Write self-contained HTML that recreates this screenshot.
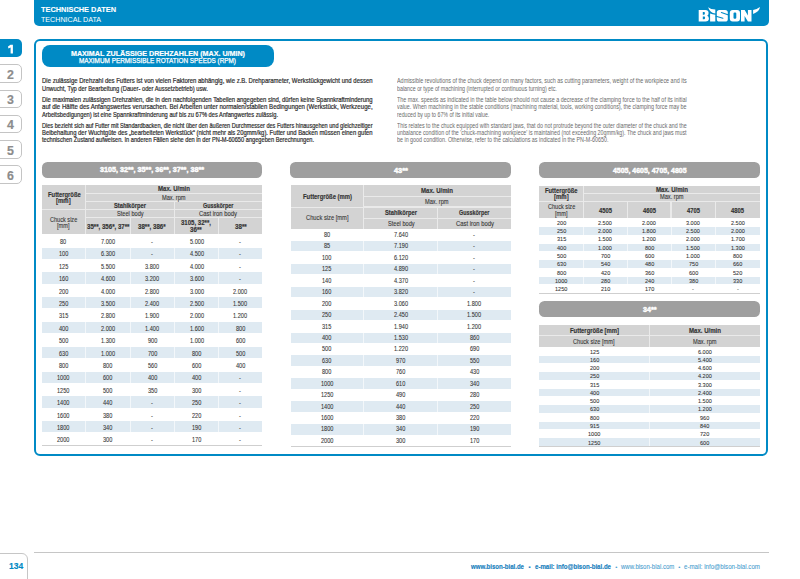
<!DOCTYPE html>
<html><head><meta charset="utf-8"><style>
*{margin:0;padding:0;box-sizing:border-box}
html,body{width:800px;height:579px;overflow:hidden;background:#fff}
body{position:relative;font-family:"Liberation Sans",sans-serif}
.a{position:absolute}
.t{position:absolute;white-space:nowrap;line-height:1;transform-origin:0 0}
</style></head><body>
<div class="a" style="left:33.50px;top:-6.00px;width:735.00px;height:31.50px;background:#008ac5;border-radius:5px"></div>
<div class="a" style="left:-6.00px;top:38.50px;width:28.20px;height:18.60px;background:#008ac5;border-radius:5px"></div>
<svg class="a" style="left:0;top:0" width="30" height="60"><path fill="#fff" d="M10.5,44.7H12.9V53.6H10.6V47.5L8.4,48.6L8.0,46.6Z"/></svg>
<div class="a" style="left:-6px;top:64.2px;width:28.1px;height:18.7px;border:1px solid #c4c4c4;border-radius:5px"></div>
<div class="a" style="left:-6px;top:89.5px;width:28.1px;height:18.7px;border:1px solid #c4c4c4;border-radius:5px"></div>
<div class="a" style="left:-6px;top:114.8px;width:28.1px;height:18.7px;border:1px solid #c4c4c4;border-radius:5px"></div>
<div class="a" style="left:-6px;top:140.1px;width:28.1px;height:18.7px;border:1px solid #c4c4c4;border-radius:5px"></div>
<div class="a" style="left:-6px;top:165.2px;width:28.1px;height:18.7px;border:1px solid #c4c4c4;border-radius:5px"></div>
<div class="a" style="left:33.5px;top:38.5px;width:734.8px;height:417.2px;border:2px solid #008ac5;border-radius:6px"></div>
<div class="a" style="left:41.50px;top:45.00px;width:232.00px;height:22.00px;background:#008ac5;border-radius:8px"></div>
<div class="a" style="left:41.70px;top:162.20px;width:220.70px;height:15.60px;background:#9f9f9f;border-radius:5.5px"></div>
<div class="a" style="left:41.70px;top:185.10px;width:220.30px;height:48.80px;background:#eaeaea;"></div>
<div class="a" style="left:41.70px;top:185.10px;width:43.10px;height:23.70px;background:#d3d3d3;"></div>
<div class="a" style="left:41.70px;top:209.80px;width:43.10px;height:24.10px;background:#d3d3d3;"></div>
<div class="a" style="left:85.80px;top:185.10px;width:176.20px;height:7.80px;background:#d3d3d3;"></div>
<div class="a" style="left:85.80px;top:193.90px;width:176.20px;height:7.00px;background:#d3d3d3;"></div>
<div class="a" style="left:85.80px;top:201.90px;width:88.10px;height:6.90px;background:#d3d3d3;"></div>
<div class="a" style="left:174.90px;top:201.90px;width:87.10px;height:6.90px;background:#d3d3d3;"></div>
<div class="a" style="left:85.80px;top:209.80px;width:88.10px;height:7.00px;background:#d3d3d3;"></div>
<div class="a" style="left:174.90px;top:209.80px;width:87.10px;height:7.00px;background:#d3d3d3;"></div>
<div class="a" style="left:85.80px;top:217.80px;width:44.10px;height:16.10px;background:#d3d3d3;"></div>
<div class="a" style="left:130.90px;top:217.80px;width:43.00px;height:16.10px;background:#d3d3d3;"></div>
<div class="a" style="left:174.90px;top:217.80px;width:43.40px;height:16.10px;background:#d3d3d3;"></div>
<div class="a" style="left:219.30px;top:217.80px;width:42.70px;height:16.10px;background:#d3d3d3;"></div>
<div class="a" style="left:41.70px;top:247.50px;width:220.30px;height:11.40px;background:#dfeaf2;"></div>
<div class="a" style="left:84.80px;top:247.50px;width:1.00px;height:11.40px;background:#f3f7fa;"></div>
<div class="a" style="left:129.90px;top:247.50px;width:1.00px;height:11.40px;background:#f3f7fa;"></div>
<div class="a" style="left:173.90px;top:247.50px;width:1.00px;height:11.40px;background:#f3f7fa;"></div>
<div class="a" style="left:218.30px;top:247.50px;width:1.00px;height:11.40px;background:#f3f7fa;"></div>
<div class="a" style="left:41.70px;top:272.30px;width:220.30px;height:11.40px;background:#dfeaf2;"></div>
<div class="a" style="left:84.80px;top:272.30px;width:1.00px;height:11.40px;background:#f3f7fa;"></div>
<div class="a" style="left:129.90px;top:272.30px;width:1.00px;height:11.40px;background:#f3f7fa;"></div>
<div class="a" style="left:173.90px;top:272.30px;width:1.00px;height:11.40px;background:#f3f7fa;"></div>
<div class="a" style="left:218.30px;top:272.30px;width:1.00px;height:11.40px;background:#f3f7fa;"></div>
<div class="a" style="left:41.70px;top:297.10px;width:220.30px;height:11.40px;background:#dfeaf2;"></div>
<div class="a" style="left:84.80px;top:297.10px;width:1.00px;height:11.40px;background:#f3f7fa;"></div>
<div class="a" style="left:129.90px;top:297.10px;width:1.00px;height:11.40px;background:#f3f7fa;"></div>
<div class="a" style="left:173.90px;top:297.10px;width:1.00px;height:11.40px;background:#f3f7fa;"></div>
<div class="a" style="left:218.30px;top:297.10px;width:1.00px;height:11.40px;background:#f3f7fa;"></div>
<div class="a" style="left:41.70px;top:321.90px;width:220.30px;height:11.40px;background:#dfeaf2;"></div>
<div class="a" style="left:84.80px;top:321.90px;width:1.00px;height:11.40px;background:#f3f7fa;"></div>
<div class="a" style="left:129.90px;top:321.90px;width:1.00px;height:11.40px;background:#f3f7fa;"></div>
<div class="a" style="left:173.90px;top:321.90px;width:1.00px;height:11.40px;background:#f3f7fa;"></div>
<div class="a" style="left:218.30px;top:321.90px;width:1.00px;height:11.40px;background:#f3f7fa;"></div>
<div class="a" style="left:41.70px;top:346.70px;width:220.30px;height:11.40px;background:#dfeaf2;"></div>
<div class="a" style="left:84.80px;top:346.70px;width:1.00px;height:11.40px;background:#f3f7fa;"></div>
<div class="a" style="left:129.90px;top:346.70px;width:1.00px;height:11.40px;background:#f3f7fa;"></div>
<div class="a" style="left:173.90px;top:346.70px;width:1.00px;height:11.40px;background:#f3f7fa;"></div>
<div class="a" style="left:218.30px;top:346.70px;width:1.00px;height:11.40px;background:#f3f7fa;"></div>
<div class="a" style="left:41.70px;top:371.50px;width:220.30px;height:11.40px;background:#dfeaf2;"></div>
<div class="a" style="left:84.80px;top:371.50px;width:1.00px;height:11.40px;background:#f3f7fa;"></div>
<div class="a" style="left:129.90px;top:371.50px;width:1.00px;height:11.40px;background:#f3f7fa;"></div>
<div class="a" style="left:173.90px;top:371.50px;width:1.00px;height:11.40px;background:#f3f7fa;"></div>
<div class="a" style="left:218.30px;top:371.50px;width:1.00px;height:11.40px;background:#f3f7fa;"></div>
<div class="a" style="left:41.70px;top:396.30px;width:220.30px;height:11.40px;background:#dfeaf2;"></div>
<div class="a" style="left:84.80px;top:396.30px;width:1.00px;height:11.40px;background:#f3f7fa;"></div>
<div class="a" style="left:129.90px;top:396.30px;width:1.00px;height:11.40px;background:#f3f7fa;"></div>
<div class="a" style="left:173.90px;top:396.30px;width:1.00px;height:11.40px;background:#f3f7fa;"></div>
<div class="a" style="left:218.30px;top:396.30px;width:1.00px;height:11.40px;background:#f3f7fa;"></div>
<div class="a" style="left:41.70px;top:421.10px;width:220.30px;height:11.40px;background:#dfeaf2;"></div>
<div class="a" style="left:84.80px;top:421.10px;width:1.00px;height:11.40px;background:#f3f7fa;"></div>
<div class="a" style="left:129.90px;top:421.10px;width:1.00px;height:11.40px;background:#f3f7fa;"></div>
<div class="a" style="left:173.90px;top:421.10px;width:1.00px;height:11.40px;background:#f3f7fa;"></div>
<div class="a" style="left:218.30px;top:421.10px;width:1.00px;height:11.40px;background:#f3f7fa;"></div>
<div class="a" style="left:41.70px;top:445.10px;width:220.30px;height:1.00px;background:#cfcfcf;"></div>
<div class="a" style="left:290.20px;top:161.70px;width:220.80px;height:16.10px;background:#9f9f9f;border-radius:5.5px"></div>
<div class="a" style="left:290.80px;top:185.25px;width:220.20px;height:43.50px;background:#eaeaea;"></div>
<div class="a" style="left:290.80px;top:185.25px;width:72.20px;height:21.25px;background:#d3d3d3;"></div>
<div class="a" style="left:290.80px;top:207.50px;width:72.20px;height:21.25px;background:#d3d3d3;"></div>
<div class="a" style="left:364.00px;top:185.25px;width:147.00px;height:10.35px;background:#d3d3d3;"></div>
<div class="a" style="left:364.00px;top:196.60px;width:147.00px;height:9.90px;background:#d3d3d3;"></div>
<div class="a" style="left:364.00px;top:207.50px;width:73.10px;height:10.30px;background:#d3d3d3;"></div>
<div class="a" style="left:438.10px;top:207.50px;width:72.90px;height:10.30px;background:#d3d3d3;"></div>
<div class="a" style="left:364.00px;top:218.80px;width:73.10px;height:9.95px;background:#d3d3d3;"></div>
<div class="a" style="left:438.10px;top:218.80px;width:72.90px;height:9.95px;background:#d3d3d3;"></div>
<div class="a" style="left:290.80px;top:241.04px;width:220.20px;height:10.44px;background:#dfeaf2;"></div>
<div class="a" style="left:363.00px;top:241.04px;width:1.00px;height:10.44px;background:#f3f7fa;"></div>
<div class="a" style="left:437.10px;top:241.04px;width:1.00px;height:10.44px;background:#f3f7fa;"></div>
<div class="a" style="left:290.80px;top:263.92px;width:220.20px;height:10.44px;background:#dfeaf2;"></div>
<div class="a" style="left:363.00px;top:263.92px;width:1.00px;height:10.44px;background:#f3f7fa;"></div>
<div class="a" style="left:437.10px;top:263.92px;width:1.00px;height:10.44px;background:#f3f7fa;"></div>
<div class="a" style="left:290.80px;top:286.80px;width:220.20px;height:10.44px;background:#dfeaf2;"></div>
<div class="a" style="left:363.00px;top:286.80px;width:1.00px;height:10.44px;background:#f3f7fa;"></div>
<div class="a" style="left:437.10px;top:286.80px;width:1.00px;height:10.44px;background:#f3f7fa;"></div>
<div class="a" style="left:290.80px;top:309.68px;width:220.20px;height:10.44px;background:#dfeaf2;"></div>
<div class="a" style="left:363.00px;top:309.68px;width:1.00px;height:10.44px;background:#f3f7fa;"></div>
<div class="a" style="left:437.10px;top:309.68px;width:1.00px;height:10.44px;background:#f3f7fa;"></div>
<div class="a" style="left:290.80px;top:332.56px;width:220.20px;height:10.44px;background:#dfeaf2;"></div>
<div class="a" style="left:363.00px;top:332.56px;width:1.00px;height:10.44px;background:#f3f7fa;"></div>
<div class="a" style="left:437.10px;top:332.56px;width:1.00px;height:10.44px;background:#f3f7fa;"></div>
<div class="a" style="left:290.80px;top:355.44px;width:220.20px;height:10.44px;background:#dfeaf2;"></div>
<div class="a" style="left:363.00px;top:355.44px;width:1.00px;height:10.44px;background:#f3f7fa;"></div>
<div class="a" style="left:437.10px;top:355.44px;width:1.00px;height:10.44px;background:#f3f7fa;"></div>
<div class="a" style="left:290.80px;top:378.32px;width:220.20px;height:10.44px;background:#dfeaf2;"></div>
<div class="a" style="left:363.00px;top:378.32px;width:1.00px;height:10.44px;background:#f3f7fa;"></div>
<div class="a" style="left:437.10px;top:378.32px;width:1.00px;height:10.44px;background:#f3f7fa;"></div>
<div class="a" style="left:290.80px;top:401.20px;width:220.20px;height:10.44px;background:#dfeaf2;"></div>
<div class="a" style="left:363.00px;top:401.20px;width:1.00px;height:10.44px;background:#f3f7fa;"></div>
<div class="a" style="left:437.10px;top:401.20px;width:1.00px;height:10.44px;background:#f3f7fa;"></div>
<div class="a" style="left:290.80px;top:424.08px;width:220.20px;height:10.44px;background:#dfeaf2;"></div>
<div class="a" style="left:363.00px;top:424.08px;width:1.00px;height:10.44px;background:#f3f7fa;"></div>
<div class="a" style="left:437.10px;top:424.08px;width:1.00px;height:10.44px;background:#f3f7fa;"></div>
<div class="a" style="left:290.80px;top:446.16px;width:220.20px;height:1.00px;background:#cfcfcf;"></div>
<div class="a" style="left:539.30px;top:161.70px;width:220.40px;height:16.10px;background:#9f9f9f;border-radius:5.5px"></div>
<div class="a" style="left:539.30px;top:185.60px;width:220.40px;height:32.15px;background:#eaeaea;"></div>
<div class="a" style="left:539.30px;top:185.60px;width:43.45px;height:15.15px;background:#d3d3d3;"></div>
<div class="a" style="left:539.30px;top:201.75px;width:43.45px;height:16.00px;background:#d3d3d3;"></div>
<div class="a" style="left:583.75px;top:185.60px;width:175.95px;height:7.00px;background:#d3d3d3;"></div>
<div class="a" style="left:583.75px;top:193.60px;width:175.95px;height:7.15px;background:#d3d3d3;"></div>
<div class="a" style="left:583.75px;top:201.75px;width:43.05px;height:16.00px;background:#d3d3d3;"></div>
<div class="a" style="left:627.80px;top:201.75px;width:42.70px;height:16.00px;background:#d3d3d3;"></div>
<div class="a" style="left:671.50px;top:201.75px;width:43.60px;height:16.00px;background:#d3d3d3;"></div>
<div class="a" style="left:716.10px;top:201.75px;width:43.60px;height:16.00px;background:#d3d3d3;"></div>
<div class="a" style="left:539.30px;top:227.21px;width:220.40px;height:7.31px;background:#dfeaf2;"></div>
<div class="a" style="left:582.75px;top:227.21px;width:1.00px;height:7.31px;background:#f3f7fa;"></div>
<div class="a" style="left:626.80px;top:227.21px;width:1.00px;height:7.31px;background:#f3f7fa;"></div>
<div class="a" style="left:670.50px;top:227.21px;width:1.00px;height:7.31px;background:#f3f7fa;"></div>
<div class="a" style="left:715.10px;top:227.21px;width:1.00px;height:7.31px;background:#f3f7fa;"></div>
<div class="a" style="left:539.30px;top:243.83px;width:220.40px;height:7.31px;background:#dfeaf2;"></div>
<div class="a" style="left:582.75px;top:243.83px;width:1.00px;height:7.31px;background:#f3f7fa;"></div>
<div class="a" style="left:626.80px;top:243.83px;width:1.00px;height:7.31px;background:#f3f7fa;"></div>
<div class="a" style="left:670.50px;top:243.83px;width:1.00px;height:7.31px;background:#f3f7fa;"></div>
<div class="a" style="left:715.10px;top:243.83px;width:1.00px;height:7.31px;background:#f3f7fa;"></div>
<div class="a" style="left:539.30px;top:260.45px;width:220.40px;height:7.31px;background:#dfeaf2;"></div>
<div class="a" style="left:582.75px;top:260.45px;width:1.00px;height:7.31px;background:#f3f7fa;"></div>
<div class="a" style="left:626.80px;top:260.45px;width:1.00px;height:7.31px;background:#f3f7fa;"></div>
<div class="a" style="left:670.50px;top:260.45px;width:1.00px;height:7.31px;background:#f3f7fa;"></div>
<div class="a" style="left:715.10px;top:260.45px;width:1.00px;height:7.31px;background:#f3f7fa;"></div>
<div class="a" style="left:539.30px;top:277.07px;width:220.40px;height:7.31px;background:#dfeaf2;"></div>
<div class="a" style="left:582.75px;top:277.07px;width:1.00px;height:7.31px;background:#f3f7fa;"></div>
<div class="a" style="left:626.80px;top:277.07px;width:1.00px;height:7.31px;background:#f3f7fa;"></div>
<div class="a" style="left:670.50px;top:277.07px;width:1.00px;height:7.31px;background:#f3f7fa;"></div>
<div class="a" style="left:715.10px;top:277.07px;width:1.00px;height:7.31px;background:#f3f7fa;"></div>
<div class="a" style="left:539.30px;top:292.89px;width:220.40px;height:1.00px;background:#cfcfcf;"></div>
<div class="a" style="left:539.30px;top:301.30px;width:220.40px;height:16.00px;background:#9f9f9f;border-radius:5.5px"></div>
<div class="a" style="left:539.30px;top:325.20px;width:220.40px;height:21.50px;background:#eaeaea;"></div>
<div class="a" style="left:539.30px;top:325.20px;width:109.70px;height:10.05px;background:#d3d3d3;"></div>
<div class="a" style="left:650.00px;top:325.20px;width:109.70px;height:10.05px;background:#d3d3d3;"></div>
<div class="a" style="left:539.30px;top:336.25px;width:109.70px;height:10.45px;background:#d3d3d3;"></div>
<div class="a" style="left:650.00px;top:336.25px;width:109.70px;height:10.45px;background:#d3d3d3;"></div>
<div class="a" style="left:539.30px;top:355.77px;width:220.40px;height:7.27px;background:#dfeaf2;"></div>
<div class="a" style="left:649.00px;top:355.77px;width:1.00px;height:7.27px;background:#f3f7fa;"></div>
<div class="a" style="left:539.30px;top:372.31px;width:220.40px;height:7.27px;background:#dfeaf2;"></div>
<div class="a" style="left:649.00px;top:372.31px;width:1.00px;height:7.27px;background:#f3f7fa;"></div>
<div class="a" style="left:539.30px;top:388.85px;width:220.40px;height:7.27px;background:#dfeaf2;"></div>
<div class="a" style="left:649.00px;top:388.85px;width:1.00px;height:7.27px;background:#f3f7fa;"></div>
<div class="a" style="left:539.30px;top:405.39px;width:220.40px;height:7.27px;background:#dfeaf2;"></div>
<div class="a" style="left:649.00px;top:405.39px;width:1.00px;height:7.27px;background:#f3f7fa;"></div>
<div class="a" style="left:539.30px;top:421.93px;width:220.40px;height:7.27px;background:#dfeaf2;"></div>
<div class="a" style="left:649.00px;top:421.93px;width:1.00px;height:7.27px;background:#f3f7fa;"></div>
<div class="a" style="left:539.30px;top:438.47px;width:220.40px;height:7.27px;background:#dfeaf2;"></div>
<div class="a" style="left:649.00px;top:438.47px;width:1.00px;height:7.27px;background:#f3f7fa;"></div>
<div class="a" style="left:539.30px;top:445.94px;width:220.40px;height:1.00px;background:#cfcfcf;"></div>
<div class="a" style="left:33.50px;top:552.00px;width:735.00px;height:1.00px;background:#c6c6c6;"></div>
<div class="a" style="left:-6px;top:552.5px;width:34px;height:40px;border:1px solid #c6c6c6;border-radius:6px"></div>
<svg class="a" style="left:0;top:0" width="800" height="30" viewBox="0 0 800 30"><g fill="#fff">
<path fill-rule="evenodd" d="M698.7,10.1H705.3Q708.6,10.1 708.6,13Q708.6,15.1 707.2,15.7Q708.9,16.4 708.9,18.6Q708.9,21.5 705.5,21.5H698.7Z M702.8,11.9H704.1Q704.9,11.9 704.9,13.3Q704.9,14.7 704.1,14.7H702.8Z M702.8,16.4H704.3Q705.1,16.4 705.1,17.8Q705.1,19.2 704.3,19.2H702.8Z"/>
<path d="M708.1,7.2Q710.8,9.6 715.3,9.6L715.3,13.6Q710.2,13.2 708.1,7.2Z"/>
<path d="M710.1,13.6Q712.5,14.6 715.3,14.8V21.5H710.1Z"/>
<path d="M719.4,10H725.2Q727.8,10 727.8,12.6V18.9Q727.8,21.5 725.2,21.5H719.4Q716.8,21.5 716.8,18.9V12.6Q716.8,10 719.4,10Z"/><path fill="none" stroke="#008ac5" stroke-width="1.1" stroke-linecap="round" d="M721.4,12.6L728.6,14.9M716,16.2L722.9,18.3"/>
<path fill-rule="evenodd" d="M732.7,10.1H737.1Q740,10.1 740,13V18.6Q740,21.5 737.1,21.5H732.7Q729.8,21.5 729.8,18.6V13Q729.8,10.1 732.7,10.1Z M734.6,12.5H735.2Q736.3,12.5 736.3,13.6V17.7Q736.3,18.8 735.2,18.8H734.6Q733.5,18.8 733.5,17.7V13.6Q733.5,12.5 734.6,12.5Z"/>
<path d="M741,21.5V10.1H744.7L747.9,15.4V10.1H751.5V21.5H747.9L744.6,16V21.5Z"/>
<path d="M753.1,10.1Q756.8,9.4 759.9,7.1Q759.7,11.7 753.1,13.9Z"/>
</g></svg>

<div class="t" style="left:41.25px;top:6.00px;font-size:8.1px;font-weight:bold;-webkit-text-stroke:0.1px #fff;color:#fff;transform:scaleX(0.9131)">TECHNISCHE DATEN</div>
<div class="t" style="left:41.25px;top:16.00px;font-size:8.1px;color:#fff;transform:scaleX(0.8797)">TECHNICAL DATA</div>
<div class="t" style="left:7.05px;top:69.00px;font-size:12.4px;font-weight:bold;-webkit-text-stroke:0.15px #8c8c8c;color:#8c8c8c;transform:scaleX(1.0000)">2</div>
<div class="t" style="left:7.05px;top:94.00px;font-size:12.4px;font-weight:bold;-webkit-text-stroke:0.15px #8c8c8c;color:#8c8c8c;transform:scaleX(1.0000)">3</div>
<div class="t" style="left:7.05px;top:119.00px;font-size:12.4px;font-weight:bold;-webkit-text-stroke:0.15px #8c8c8c;color:#8c8c8c;transform:scaleX(1.0000)">4</div>
<div class="t" style="left:7.05px;top:145.00px;font-size:12.4px;font-weight:bold;-webkit-text-stroke:0.15px #8c8c8c;color:#8c8c8c;transform:scaleX(1.0000)">5</div>
<div class="t" style="left:7.05px;top:170.00px;font-size:12.4px;font-weight:bold;-webkit-text-stroke:0.15px #8c8c8c;color:#8c8c8c;transform:scaleX(1.0000)">6</div>
<div class="t" style="left:70.50px;top:51.00px;font-size:6.9px;font-weight:bold;-webkit-text-stroke:0.2px #fff;color:#fff;transform:scaleX(1.0361)">MAXIMAL ZULÄSSIGE DREHZAHLEN (MAX. U/MIN)</div>
<div class="t" style="left:79.40px;top:58.00px;font-size:6.9px;-webkit-text-stroke:0.25px #fff;color:#fff;transform:scaleX(0.9270)">MAXIMUM PERMISSIBLE ROTATION SPEEDS (RPM)</div>
<div class="t" style="left:41.50px;top:78.00px;font-size:6.6px;-webkit-text-stroke:0.19px #2b2b2b;color:#2b2b2b;transform:scaleX(0.9078)">Die zulässige Drehzahl des Futters ist von vielen Faktoren abhängig, wie z.B. Drehparameter, Werkstückgewicht und dessen</div>
<div class="t" style="left:41.50px;top:86.00px;font-size:6.6px;-webkit-text-stroke:0.19px #2b2b2b;color:#2b2b2b;transform:scaleX(0.8721)">Unwucht, Typ der Bearbeitung (Dauer- oder Aussetzbetrieb) usw.</div>
<div class="t" style="left:41.50px;top:97.00px;font-size:6.6px;-webkit-text-stroke:0.19px #2b2b2b;color:#2b2b2b;transform:scaleX(0.8950)">Die maximalen zulässigen Drehzahlen, die in den nachfolgenden Tabellen angegeben sind,  dürfen keine Spannkraftminderung</div>
<div class="t" style="left:41.50px;top:104.00px;font-size:6.6px;-webkit-text-stroke:0.19px #2b2b2b;color:#2b2b2b;transform:scaleX(0.9219)">auf die Hälfte des Anfangswertes verursachen. Bei Arbeiten unter normalen/stabilen Bedingungen (Werkstück, Werkzeuge,</div>
<div class="t" style="left:41.50px;top:112.00px;font-size:6.6px;-webkit-text-stroke:0.19px #2b2b2b;color:#2b2b2b;transform:scaleX(0.8689)">Arbeitsbedigungen) ist eine Spannkraftminderung auf bis zu 67% des Anfangwertes zulässig.</div>
<div class="t" style="left:41.50px;top:123.00px;font-size:6.6px;-webkit-text-stroke:0.19px #2b2b2b;color:#2b2b2b;transform:scaleX(0.8445)">Dies bezieht sich auf Futter mit Standardbacken, die nicht über den äußeren Durchmesser des Futters hinausgehen und gleichzeitiger</div>
<div class="t" style="left:41.50px;top:130.00px;font-size:6.6px;-webkit-text-stroke:0.19px #2b2b2b;color:#2b2b2b;transform:scaleX(0.8945)">Beibehaltung der Wuchtgüte des „bearbeiteten Werkstück“ (nicht mehr als 20gmm/kg). Futter und Backen müssen einen guten</div>
<div class="t" style="left:41.50px;top:137.00px;font-size:6.6px;-webkit-text-stroke:0.19px #2b2b2b;color:#2b2b2b;transform:scaleX(0.8591)">technischen Zustand aufweisen. In anderen Fällen siehe den in der PN-M-60650 angegeben Berechnungen.</div>
<div class="t" style="left:397.40px;top:78.00px;font-size:6.6px;color:#6a6a6a;transform:scaleX(0.8222)">Admissible revolutions of the chuck depend on many factors, such as cutting parameters, weight of the workpiece and its</div>
<div class="t" style="left:397.40px;top:86.00px;font-size:6.6px;color:#6a6a6a;transform:scaleX(0.8073)">balance or type of machining (interrupted or continuous turning) etc.</div>
<div class="t" style="left:397.40px;top:97.00px;font-size:6.6px;color:#6a6a6a;transform:scaleX(0.8196)">The max. speeds as indicated in the table below should not cause a decrease of the clamping force to the half of its initial</div>
<div class="t" style="left:397.40px;top:104.00px;font-size:6.6px;color:#6a6a6a;transform:scaleX(0.8146)">value. When machining in the stable conditions (machining material, tools, working conditions), the clamping force may be</div>
<div class="t" style="left:397.40px;top:112.00px;font-size:6.6px;color:#6a6a6a;transform:scaleX(0.7943)">reduced by up to 67% of its initial value.</div>
<div class="t" style="left:397.40px;top:123.00px;font-size:6.6px;color:#6a6a6a;transform:scaleX(0.8095)">This relates to the chuck equipped with standard jaws, that do not protrude beyond the outer diameter of the chuck and the</div>
<div class="t" style="left:397.40px;top:130.00px;font-size:6.6px;color:#6a6a6a;transform:scaleX(0.8025)">unbalance condition of the 'chuck-machining workpiece' is maintained (not exceeding 20gmm/kg). The chuck and jaws must</div>
<div class="t" style="left:397.40px;top:137.00px;font-size:6.6px;color:#6a6a6a;transform:scaleX(0.8123)">be in good condition. Otherwise, refer to the calculations as indicated in the PN-M-60650.</div>
<div class="t" style="left:99.85px;top:166.00px;font-size:7.4px;font-weight:bold;-webkit-text-stroke:0.45px #fff;color:#fff;transform:scaleX(0.9734)">3105, 32**, 35**, 36**, 37**, 38**</div>
<div class="t" style="left:47.52px;top:192.00px;font-size:6.3px;font-weight:bold;-webkit-text-stroke:0.15px #333;color:#333;transform:scaleX(0.9266)">Futtergröße</div>
<div class="t" style="left:56.23px;top:198.00px;font-size:6.3px;font-weight:bold;-webkit-text-stroke:0.15px #333;color:#333;transform:scaleX(0.9574)">[mm]</div>
<div class="t" style="left:49.98px;top:217.00px;font-size:6.3px;-webkit-text-stroke:0.1px #363636;color:#363636;transform:scaleX(0.8848)">Chuck size</div>
<div class="t" style="left:57.35px;top:223.00px;font-size:6.3px;-webkit-text-stroke:0.1px #363636;color:#363636;transform:scaleX(0.8929)">[mm]</div>
<div class="t" style="left:157.85px;top:186.00px;font-size:6.3px;font-weight:bold;-webkit-text-stroke:0.15px #333;color:#333;transform:scaleX(0.9624)">Max. U/min</div>
<div class="t" style="left:162.00px;top:195.00px;font-size:6.3px;-webkit-text-stroke:0.1px #363636;color:#363636;transform:scaleX(0.8990)">Max. rpm</div>
<div class="t" style="left:113.85px;top:203.00px;font-size:6.3px;font-weight:bold;-webkit-text-stroke:0.15px #333;color:#333;transform:scaleX(0.9143)">Stahlkörper</div>
<div class="t" style="left:202.80px;top:203.00px;font-size:6.3px;font-weight:bold;-webkit-text-stroke:0.15px #333;color:#333;transform:scaleX(0.8597)">Gusskörper</div>
<div class="t" style="left:116.55px;top:211.00px;font-size:6.3px;-webkit-text-stroke:0.1px #363636;color:#363636;transform:scaleX(0.8936)">Steel body</div>
<div class="t" style="left:199.10px;top:211.00px;font-size:6.3px;-webkit-text-stroke:0.1px #363636;color:#363636;transform:scaleX(0.9357)">Cast iron body</div>
<div class="t" style="left:86.50px;top:224.00px;font-size:6.3px;font-weight:bold;-webkit-text-stroke:0.15px #333;color:#333;transform:scaleX(0.9711)">35**, 356*, 37**</div>
<div class="t" style="left:138.05px;top:224.00px;font-size:6.3px;font-weight:bold;-webkit-text-stroke:0.15px #333;color:#333;transform:scaleX(0.9762)">38**, 386*</div>
<div class="t" style="left:181.00px;top:220.00px;font-size:6.3px;font-weight:bold;-webkit-text-stroke:0.15px #333;color:#333;transform:scaleX(0.9624)">3105, 32**,</div>
<div class="t" style="left:190.10px;top:227.00px;font-size:6.3px;font-weight:bold;-webkit-text-stroke:0.15px #333;color:#333;transform:scaleX(0.9911)">36**</div>
<div class="t" style="left:234.60px;top:224.00px;font-size:6.3px;font-weight:bold;-webkit-text-stroke:0.15px #333;color:#333;transform:scaleX(0.9911)">38**</div>
<div class="t" style="left:60.38px;top:239.00px;font-size:6.6px;-webkit-text-stroke:0.08px #333;color:#333;transform:scaleX(0.8500)">80</div>
<div class="t" style="left:100.83px;top:239.00px;font-size:6.6px;-webkit-text-stroke:0.08px #333;color:#333;transform:scaleX(0.8500)">7.000</div>
<div class="t" style="left:151.46px;top:239.00px;font-size:6.6px;-webkit-text-stroke:0.08px #333;color:#333;transform:scaleX(0.8500)">-</div>
<div class="t" style="left:189.58px;top:239.00px;font-size:6.6px;-webkit-text-stroke:0.08px #333;color:#333;transform:scaleX(0.8500)">5.000</div>
<div class="t" style="left:239.46px;top:239.00px;font-size:6.6px;-webkit-text-stroke:0.08px #333;color:#333;transform:scaleX(0.8500)">-</div>
<div class="t" style="left:58.82px;top:251.00px;font-size:6.6px;-webkit-text-stroke:0.08px #333;color:#333;transform:scaleX(0.8500)">100</div>
<div class="t" style="left:100.83px;top:251.00px;font-size:6.6px;-webkit-text-stroke:0.08px #333;color:#333;transform:scaleX(0.8500)">6.300</div>
<div class="t" style="left:151.46px;top:251.00px;font-size:6.6px;-webkit-text-stroke:0.08px #333;color:#333;transform:scaleX(0.8500)">-</div>
<div class="t" style="left:189.58px;top:251.00px;font-size:6.6px;-webkit-text-stroke:0.08px #333;color:#333;transform:scaleX(0.8500)">4.500</div>
<div class="t" style="left:239.46px;top:251.00px;font-size:6.6px;-webkit-text-stroke:0.08px #333;color:#333;transform:scaleX(0.8500)">-</div>
<div class="t" style="left:58.82px;top:264.00px;font-size:6.6px;-webkit-text-stroke:0.08px #333;color:#333;transform:scaleX(0.8500)">125</div>
<div class="t" style="left:100.83px;top:264.00px;font-size:6.6px;-webkit-text-stroke:0.08px #333;color:#333;transform:scaleX(0.8500)">5.500</div>
<div class="t" style="left:145.38px;top:264.00px;font-size:6.6px;-webkit-text-stroke:0.08px #333;color:#333;transform:scaleX(0.8500)">3.800</div>
<div class="t" style="left:189.58px;top:264.00px;font-size:6.6px;-webkit-text-stroke:0.08px #333;color:#333;transform:scaleX(0.8500)">4.000</div>
<div class="t" style="left:239.46px;top:264.00px;font-size:6.6px;-webkit-text-stroke:0.08px #333;color:#333;transform:scaleX(0.8500)">-</div>
<div class="t" style="left:58.82px;top:276.00px;font-size:6.6px;-webkit-text-stroke:0.08px #333;color:#333;transform:scaleX(0.8500)">160</div>
<div class="t" style="left:100.83px;top:276.00px;font-size:6.6px;-webkit-text-stroke:0.08px #333;color:#333;transform:scaleX(0.8500)">4.600</div>
<div class="t" style="left:145.38px;top:276.00px;font-size:6.6px;-webkit-text-stroke:0.08px #333;color:#333;transform:scaleX(0.8500)">3.200</div>
<div class="t" style="left:189.58px;top:276.00px;font-size:6.6px;-webkit-text-stroke:0.08px #333;color:#333;transform:scaleX(0.8500)">3.600</div>
<div class="t" style="left:239.46px;top:276.00px;font-size:6.6px;-webkit-text-stroke:0.08px #333;color:#333;transform:scaleX(0.8500)">-</div>
<div class="t" style="left:58.82px;top:289.00px;font-size:6.6px;-webkit-text-stroke:0.08px #333;color:#333;transform:scaleX(0.8500)">200</div>
<div class="t" style="left:100.83px;top:289.00px;font-size:6.6px;-webkit-text-stroke:0.08px #333;color:#333;transform:scaleX(0.8500)">4.000</div>
<div class="t" style="left:145.38px;top:289.00px;font-size:6.6px;-webkit-text-stroke:0.08px #333;color:#333;transform:scaleX(0.8500)">2.800</div>
<div class="t" style="left:189.58px;top:289.00px;font-size:6.6px;-webkit-text-stroke:0.08px #333;color:#333;transform:scaleX(0.8500)">3.000</div>
<div class="t" style="left:233.38px;top:289.00px;font-size:6.6px;-webkit-text-stroke:0.08px #333;color:#333;transform:scaleX(0.8500)">2.000</div>
<div class="t" style="left:58.82px;top:301.00px;font-size:6.6px;-webkit-text-stroke:0.08px #333;color:#333;transform:scaleX(0.8500)">250</div>
<div class="t" style="left:100.83px;top:301.00px;font-size:6.6px;-webkit-text-stroke:0.08px #333;color:#333;transform:scaleX(0.8500)">3.500</div>
<div class="t" style="left:145.38px;top:301.00px;font-size:6.6px;-webkit-text-stroke:0.08px #333;color:#333;transform:scaleX(0.8500)">2.400</div>
<div class="t" style="left:189.58px;top:301.00px;font-size:6.6px;-webkit-text-stroke:0.08px #333;color:#333;transform:scaleX(0.8500)">2.500</div>
<div class="t" style="left:233.38px;top:301.00px;font-size:6.6px;-webkit-text-stroke:0.08px #333;color:#333;transform:scaleX(0.8500)">1.500</div>
<div class="t" style="left:58.82px;top:313.00px;font-size:6.6px;-webkit-text-stroke:0.08px #333;color:#333;transform:scaleX(0.8500)">315</div>
<div class="t" style="left:100.83px;top:313.00px;font-size:6.6px;-webkit-text-stroke:0.08px #333;color:#333;transform:scaleX(0.8500)">2.800</div>
<div class="t" style="left:145.38px;top:313.00px;font-size:6.6px;-webkit-text-stroke:0.08px #333;color:#333;transform:scaleX(0.8500)">1.900</div>
<div class="t" style="left:189.58px;top:313.00px;font-size:6.6px;-webkit-text-stroke:0.08px #333;color:#333;transform:scaleX(0.8500)">2.000</div>
<div class="t" style="left:233.38px;top:313.00px;font-size:6.6px;-webkit-text-stroke:0.08px #333;color:#333;transform:scaleX(0.8500)">1.200</div>
<div class="t" style="left:58.82px;top:326.00px;font-size:6.6px;-webkit-text-stroke:0.08px #333;color:#333;transform:scaleX(0.8500)">400</div>
<div class="t" style="left:100.83px;top:326.00px;font-size:6.6px;-webkit-text-stroke:0.08px #333;color:#333;transform:scaleX(0.8500)">2.000</div>
<div class="t" style="left:145.38px;top:326.00px;font-size:6.6px;-webkit-text-stroke:0.08px #333;color:#333;transform:scaleX(0.8500)">1.400</div>
<div class="t" style="left:189.58px;top:326.00px;font-size:6.6px;-webkit-text-stroke:0.08px #333;color:#333;transform:scaleX(0.8500)">1.600</div>
<div class="t" style="left:235.72px;top:326.00px;font-size:6.6px;-webkit-text-stroke:0.08px #333;color:#333;transform:scaleX(0.8500)">800</div>
<div class="t" style="left:58.82px;top:338.00px;font-size:6.6px;-webkit-text-stroke:0.08px #333;color:#333;transform:scaleX(0.8500)">500</div>
<div class="t" style="left:100.83px;top:338.00px;font-size:6.6px;-webkit-text-stroke:0.08px #333;color:#333;transform:scaleX(0.8500)">1.300</div>
<div class="t" style="left:147.72px;top:338.00px;font-size:6.6px;-webkit-text-stroke:0.08px #333;color:#333;transform:scaleX(0.8500)">900</div>
<div class="t" style="left:189.58px;top:338.00px;font-size:6.6px;-webkit-text-stroke:0.08px #333;color:#333;transform:scaleX(0.8500)">1.000</div>
<div class="t" style="left:235.72px;top:338.00px;font-size:6.6px;-webkit-text-stroke:0.08px #333;color:#333;transform:scaleX(0.8500)">600</div>
<div class="t" style="left:58.82px;top:351.00px;font-size:6.6px;-webkit-text-stroke:0.08px #333;color:#333;transform:scaleX(0.8500)">630</div>
<div class="t" style="left:100.83px;top:351.00px;font-size:6.6px;-webkit-text-stroke:0.08px #333;color:#333;transform:scaleX(0.8500)">1.000</div>
<div class="t" style="left:147.72px;top:351.00px;font-size:6.6px;-webkit-text-stroke:0.08px #333;color:#333;transform:scaleX(0.8500)">700</div>
<div class="t" style="left:191.92px;top:351.00px;font-size:6.6px;-webkit-text-stroke:0.08px #333;color:#333;transform:scaleX(0.8500)">800</div>
<div class="t" style="left:235.72px;top:351.00px;font-size:6.6px;-webkit-text-stroke:0.08px #333;color:#333;transform:scaleX(0.8500)">500</div>
<div class="t" style="left:58.82px;top:363.00px;font-size:6.6px;-webkit-text-stroke:0.08px #333;color:#333;transform:scaleX(0.8500)">800</div>
<div class="t" style="left:103.17px;top:363.00px;font-size:6.6px;-webkit-text-stroke:0.08px #333;color:#333;transform:scaleX(0.8500)">800</div>
<div class="t" style="left:147.72px;top:363.00px;font-size:6.6px;-webkit-text-stroke:0.08px #333;color:#333;transform:scaleX(0.8500)">560</div>
<div class="t" style="left:191.92px;top:363.00px;font-size:6.6px;-webkit-text-stroke:0.08px #333;color:#333;transform:scaleX(0.8500)">600</div>
<div class="t" style="left:235.72px;top:363.00px;font-size:6.6px;-webkit-text-stroke:0.08px #333;color:#333;transform:scaleX(0.8500)">400</div>
<div class="t" style="left:57.26px;top:375.00px;font-size:6.6px;-webkit-text-stroke:0.08px #333;color:#333;transform:scaleX(0.8500)">1000</div>
<div class="t" style="left:103.17px;top:375.00px;font-size:6.6px;-webkit-text-stroke:0.08px #333;color:#333;transform:scaleX(0.8500)">600</div>
<div class="t" style="left:147.72px;top:375.00px;font-size:6.6px;-webkit-text-stroke:0.08px #333;color:#333;transform:scaleX(0.8500)">400</div>
<div class="t" style="left:191.92px;top:375.00px;font-size:6.6px;-webkit-text-stroke:0.08px #333;color:#333;transform:scaleX(0.8500)">400</div>
<div class="t" style="left:239.46px;top:375.00px;font-size:6.6px;-webkit-text-stroke:0.08px #333;color:#333;transform:scaleX(0.8500)">-</div>
<div class="t" style="left:57.26px;top:388.00px;font-size:6.6px;-webkit-text-stroke:0.08px #333;color:#333;transform:scaleX(0.8500)">1250</div>
<div class="t" style="left:103.17px;top:388.00px;font-size:6.6px;-webkit-text-stroke:0.08px #333;color:#333;transform:scaleX(0.8500)">500</div>
<div class="t" style="left:147.72px;top:388.00px;font-size:6.6px;-webkit-text-stroke:0.08px #333;color:#333;transform:scaleX(0.8500)">350</div>
<div class="t" style="left:191.92px;top:388.00px;font-size:6.6px;-webkit-text-stroke:0.08px #333;color:#333;transform:scaleX(0.8500)">300</div>
<div class="t" style="left:239.46px;top:388.00px;font-size:6.6px;-webkit-text-stroke:0.08px #333;color:#333;transform:scaleX(0.8500)">-</div>
<div class="t" style="left:57.26px;top:400.00px;font-size:6.6px;-webkit-text-stroke:0.08px #333;color:#333;transform:scaleX(0.8500)">1400</div>
<div class="t" style="left:103.17px;top:400.00px;font-size:6.6px;-webkit-text-stroke:0.08px #333;color:#333;transform:scaleX(0.8500)">440</div>
<div class="t" style="left:151.46px;top:400.00px;font-size:6.6px;-webkit-text-stroke:0.08px #333;color:#333;transform:scaleX(0.8500)">-</div>
<div class="t" style="left:191.92px;top:400.00px;font-size:6.6px;-webkit-text-stroke:0.08px #333;color:#333;transform:scaleX(0.8500)">250</div>
<div class="t" style="left:239.46px;top:400.00px;font-size:6.6px;-webkit-text-stroke:0.08px #333;color:#333;transform:scaleX(0.8500)">-</div>
<div class="t" style="left:57.26px;top:413.00px;font-size:6.6px;-webkit-text-stroke:0.08px #333;color:#333;transform:scaleX(0.8500)">1600</div>
<div class="t" style="left:103.17px;top:413.00px;font-size:6.6px;-webkit-text-stroke:0.08px #333;color:#333;transform:scaleX(0.8500)">380</div>
<div class="t" style="left:151.46px;top:413.00px;font-size:6.6px;-webkit-text-stroke:0.08px #333;color:#333;transform:scaleX(0.8500)">-</div>
<div class="t" style="left:191.92px;top:413.00px;font-size:6.6px;-webkit-text-stroke:0.08px #333;color:#333;transform:scaleX(0.8500)">220</div>
<div class="t" style="left:239.46px;top:413.00px;font-size:6.6px;-webkit-text-stroke:0.08px #333;color:#333;transform:scaleX(0.8500)">-</div>
<div class="t" style="left:57.26px;top:425.00px;font-size:6.6px;-webkit-text-stroke:0.08px #333;color:#333;transform:scaleX(0.8500)">1800</div>
<div class="t" style="left:103.17px;top:425.00px;font-size:6.6px;-webkit-text-stroke:0.08px #333;color:#333;transform:scaleX(0.8500)">340</div>
<div class="t" style="left:151.46px;top:425.00px;font-size:6.6px;-webkit-text-stroke:0.08px #333;color:#333;transform:scaleX(0.8500)">-</div>
<div class="t" style="left:191.92px;top:425.00px;font-size:6.6px;-webkit-text-stroke:0.08px #333;color:#333;transform:scaleX(0.8500)">190</div>
<div class="t" style="left:239.46px;top:425.00px;font-size:6.6px;-webkit-text-stroke:0.08px #333;color:#333;transform:scaleX(0.8500)">-</div>
<div class="t" style="left:57.26px;top:437.00px;font-size:6.6px;-webkit-text-stroke:0.08px #333;color:#333;transform:scaleX(0.8500)">2000</div>
<div class="t" style="left:103.17px;top:437.00px;font-size:6.6px;-webkit-text-stroke:0.08px #333;color:#333;transform:scaleX(0.8500)">300</div>
<div class="t" style="left:151.46px;top:437.00px;font-size:6.6px;-webkit-text-stroke:0.08px #333;color:#333;transform:scaleX(0.8500)">-</div>
<div class="t" style="left:191.92px;top:437.00px;font-size:6.6px;-webkit-text-stroke:0.08px #333;color:#333;transform:scaleX(0.8500)">170</div>
<div class="t" style="left:239.46px;top:437.00px;font-size:6.6px;-webkit-text-stroke:0.08px #333;color:#333;transform:scaleX(0.8500)">-</div>
<div class="t" style="left:393.60px;top:167.00px;font-size:7.4px;font-weight:bold;-webkit-text-stroke:0.45px #fff;color:#fff;transform:scaleX(1.0011)">43**</div>
<div class="t" style="left:302.80px;top:194.00px;font-size:6.3px;font-weight:bold;-webkit-text-stroke:0.15px #333;color:#333;transform:scaleX(0.9336)">Futtergröße (mm)</div>
<div class="t" style="left:306.05px;top:215.00px;font-size:6.3px;-webkit-text-stroke:0.1px #363636;color:#363636;transform:scaleX(0.9131)">Chuck size [mm]</div>
<div class="t" style="left:421.20px;top:188.00px;font-size:6.3px;font-weight:bold;-webkit-text-stroke:0.15px #333;color:#333;transform:scaleX(0.9624)">Max. U/min</div>
<div class="t" style="left:425.40px;top:199.00px;font-size:6.3px;-webkit-text-stroke:0.1px #363636;color:#363636;transform:scaleX(0.8990)">Max. rpm</div>
<div class="t" style="left:384.60px;top:210.00px;font-size:6.3px;font-weight:bold;-webkit-text-stroke:0.15px #333;color:#333;transform:scaleX(0.9143)">Stahlkörper</div>
<div class="t" style="left:459.30px;top:210.00px;font-size:6.3px;font-weight:bold;-webkit-text-stroke:0.15px #333;color:#333;transform:scaleX(0.8597)">Gusskörper</div>
<div class="t" style="left:387.60px;top:221.00px;font-size:6.3px;-webkit-text-stroke:0.1px #363636;color:#363636;transform:scaleX(0.8936)">Steel body</div>
<div class="t" style="left:455.50px;top:221.00px;font-size:6.3px;-webkit-text-stroke:0.1px #363636;color:#363636;transform:scaleX(0.9357)">Cast iron body</div>
<div class="t" style="left:324.03px;top:232.00px;font-size:6.6px;-webkit-text-stroke:0.08px #333;color:#333;transform:scaleX(0.8500)">80</div>
<div class="t" style="left:393.53px;top:232.00px;font-size:6.6px;-webkit-text-stroke:0.08px #333;color:#333;transform:scaleX(0.8500)">7.640</div>
<div class="t" style="left:473.36px;top:232.00px;font-size:6.6px;-webkit-text-stroke:0.08px #333;color:#333;transform:scaleX(0.8500)">-</div>
<div class="t" style="left:324.03px;top:243.00px;font-size:6.6px;-webkit-text-stroke:0.08px #333;color:#333;transform:scaleX(0.8500)">85</div>
<div class="t" style="left:393.53px;top:243.00px;font-size:6.6px;-webkit-text-stroke:0.08px #333;color:#333;transform:scaleX(0.8500)">7.190</div>
<div class="t" style="left:473.36px;top:243.00px;font-size:6.6px;-webkit-text-stroke:0.08px #333;color:#333;transform:scaleX(0.8500)">-</div>
<div class="t" style="left:322.47px;top:255.00px;font-size:6.6px;-webkit-text-stroke:0.08px #333;color:#333;transform:scaleX(0.8500)">100</div>
<div class="t" style="left:393.53px;top:255.00px;font-size:6.6px;-webkit-text-stroke:0.08px #333;color:#333;transform:scaleX(0.8500)">6.120</div>
<div class="t" style="left:473.36px;top:255.00px;font-size:6.6px;-webkit-text-stroke:0.08px #333;color:#333;transform:scaleX(0.8500)">-</div>
<div class="t" style="left:322.47px;top:266.00px;font-size:6.6px;-webkit-text-stroke:0.08px #333;color:#333;transform:scaleX(0.8500)">125</div>
<div class="t" style="left:393.53px;top:266.00px;font-size:6.6px;-webkit-text-stroke:0.08px #333;color:#333;transform:scaleX(0.8500)">4.890</div>
<div class="t" style="left:473.36px;top:266.00px;font-size:6.6px;-webkit-text-stroke:0.08px #333;color:#333;transform:scaleX(0.8500)">-</div>
<div class="t" style="left:322.47px;top:278.00px;font-size:6.6px;-webkit-text-stroke:0.08px #333;color:#333;transform:scaleX(0.8500)">140</div>
<div class="t" style="left:393.53px;top:278.00px;font-size:6.6px;-webkit-text-stroke:0.08px #333;color:#333;transform:scaleX(0.8500)">4.370</div>
<div class="t" style="left:473.36px;top:278.00px;font-size:6.6px;-webkit-text-stroke:0.08px #333;color:#333;transform:scaleX(0.8500)">-</div>
<div class="t" style="left:322.47px;top:289.00px;font-size:6.6px;-webkit-text-stroke:0.08px #333;color:#333;transform:scaleX(0.8500)">160</div>
<div class="t" style="left:393.53px;top:289.00px;font-size:6.6px;-webkit-text-stroke:0.08px #333;color:#333;transform:scaleX(0.8500)">3.820</div>
<div class="t" style="left:473.36px;top:289.00px;font-size:6.6px;-webkit-text-stroke:0.08px #333;color:#333;transform:scaleX(0.8500)">-</div>
<div class="t" style="left:322.47px;top:301.00px;font-size:6.6px;-webkit-text-stroke:0.08px #333;color:#333;transform:scaleX(0.8500)">200</div>
<div class="t" style="left:393.53px;top:301.00px;font-size:6.6px;-webkit-text-stroke:0.08px #333;color:#333;transform:scaleX(0.8500)">3.060</div>
<div class="t" style="left:467.28px;top:301.00px;font-size:6.6px;-webkit-text-stroke:0.08px #333;color:#333;transform:scaleX(0.8500)">1.800</div>
<div class="t" style="left:322.47px;top:312.00px;font-size:6.6px;-webkit-text-stroke:0.08px #333;color:#333;transform:scaleX(0.8500)">250</div>
<div class="t" style="left:393.53px;top:312.00px;font-size:6.6px;-webkit-text-stroke:0.08px #333;color:#333;transform:scaleX(0.8500)">2.450</div>
<div class="t" style="left:467.28px;top:312.00px;font-size:6.6px;-webkit-text-stroke:0.08px #333;color:#333;transform:scaleX(0.8500)">1.500</div>
<div class="t" style="left:322.47px;top:324.00px;font-size:6.6px;-webkit-text-stroke:0.08px #333;color:#333;transform:scaleX(0.8500)">315</div>
<div class="t" style="left:393.53px;top:324.00px;font-size:6.6px;-webkit-text-stroke:0.08px #333;color:#333;transform:scaleX(0.8500)">1.940</div>
<div class="t" style="left:467.28px;top:324.00px;font-size:6.6px;-webkit-text-stroke:0.08px #333;color:#333;transform:scaleX(0.8500)">1.200</div>
<div class="t" style="left:322.47px;top:335.00px;font-size:6.6px;-webkit-text-stroke:0.08px #333;color:#333;transform:scaleX(0.8500)">400</div>
<div class="t" style="left:393.53px;top:335.00px;font-size:6.6px;-webkit-text-stroke:0.08px #333;color:#333;transform:scaleX(0.8500)">1.530</div>
<div class="t" style="left:469.62px;top:335.00px;font-size:6.6px;-webkit-text-stroke:0.08px #333;color:#333;transform:scaleX(0.8500)">860</div>
<div class="t" style="left:322.47px;top:346.00px;font-size:6.6px;-webkit-text-stroke:0.08px #333;color:#333;transform:scaleX(0.8500)">500</div>
<div class="t" style="left:393.53px;top:346.00px;font-size:6.6px;-webkit-text-stroke:0.08px #333;color:#333;transform:scaleX(0.8500)">1.220</div>
<div class="t" style="left:469.62px;top:346.00px;font-size:6.6px;-webkit-text-stroke:0.08px #333;color:#333;transform:scaleX(0.8500)">690</div>
<div class="t" style="left:322.47px;top:358.00px;font-size:6.6px;-webkit-text-stroke:0.08px #333;color:#333;transform:scaleX(0.8500)">630</div>
<div class="t" style="left:395.87px;top:358.00px;font-size:6.6px;-webkit-text-stroke:0.08px #333;color:#333;transform:scaleX(0.8500)">970</div>
<div class="t" style="left:469.62px;top:358.00px;font-size:6.6px;-webkit-text-stroke:0.08px #333;color:#333;transform:scaleX(0.8500)">550</div>
<div class="t" style="left:322.47px;top:369.00px;font-size:6.6px;-webkit-text-stroke:0.08px #333;color:#333;transform:scaleX(0.8500)">800</div>
<div class="t" style="left:395.87px;top:369.00px;font-size:6.6px;-webkit-text-stroke:0.08px #333;color:#333;transform:scaleX(0.8500)">760</div>
<div class="t" style="left:469.62px;top:369.00px;font-size:6.6px;-webkit-text-stroke:0.08px #333;color:#333;transform:scaleX(0.8500)">430</div>
<div class="t" style="left:320.91px;top:381.00px;font-size:6.6px;-webkit-text-stroke:0.08px #333;color:#333;transform:scaleX(0.8500)">1000</div>
<div class="t" style="left:395.87px;top:381.00px;font-size:6.6px;-webkit-text-stroke:0.08px #333;color:#333;transform:scaleX(0.8500)">610</div>
<div class="t" style="left:469.62px;top:381.00px;font-size:6.6px;-webkit-text-stroke:0.08px #333;color:#333;transform:scaleX(0.8500)">340</div>
<div class="t" style="left:320.91px;top:392.00px;font-size:6.6px;-webkit-text-stroke:0.08px #333;color:#333;transform:scaleX(0.8500)">1250</div>
<div class="t" style="left:395.87px;top:392.00px;font-size:6.6px;-webkit-text-stroke:0.08px #333;color:#333;transform:scaleX(0.8500)">490</div>
<div class="t" style="left:469.62px;top:392.00px;font-size:6.6px;-webkit-text-stroke:0.08px #333;color:#333;transform:scaleX(0.8500)">280</div>
<div class="t" style="left:320.91px;top:404.00px;font-size:6.6px;-webkit-text-stroke:0.08px #333;color:#333;transform:scaleX(0.8500)">1400</div>
<div class="t" style="left:395.87px;top:404.00px;font-size:6.6px;-webkit-text-stroke:0.08px #333;color:#333;transform:scaleX(0.8500)">440</div>
<div class="t" style="left:469.62px;top:404.00px;font-size:6.6px;-webkit-text-stroke:0.08px #333;color:#333;transform:scaleX(0.8500)">250</div>
<div class="t" style="left:320.91px;top:415.00px;font-size:6.6px;-webkit-text-stroke:0.08px #333;color:#333;transform:scaleX(0.8500)">1600</div>
<div class="t" style="left:395.87px;top:415.00px;font-size:6.6px;-webkit-text-stroke:0.08px #333;color:#333;transform:scaleX(0.8500)">380</div>
<div class="t" style="left:469.62px;top:415.00px;font-size:6.6px;-webkit-text-stroke:0.08px #333;color:#333;transform:scaleX(0.8500)">220</div>
<div class="t" style="left:320.91px;top:426.00px;font-size:6.6px;-webkit-text-stroke:0.08px #333;color:#333;transform:scaleX(0.8500)">1800</div>
<div class="t" style="left:395.87px;top:426.00px;font-size:6.6px;-webkit-text-stroke:0.08px #333;color:#333;transform:scaleX(0.8500)">340</div>
<div class="t" style="left:469.62px;top:426.00px;font-size:6.6px;-webkit-text-stroke:0.08px #333;color:#333;transform:scaleX(0.8500)">190</div>
<div class="t" style="left:320.91px;top:438.00px;font-size:6.6px;-webkit-text-stroke:0.08px #333;color:#333;transform:scaleX(0.8500)">2000</div>
<div class="t" style="left:395.87px;top:438.00px;font-size:6.6px;-webkit-text-stroke:0.08px #333;color:#333;transform:scaleX(0.8500)">300</div>
<div class="t" style="left:469.62px;top:438.00px;font-size:6.6px;-webkit-text-stroke:0.08px #333;color:#333;transform:scaleX(0.8500)">170</div>
<div class="t" style="left:612.60px;top:167.00px;font-size:7.4px;font-weight:bold;-webkit-text-stroke:0.45px #fff;color:#fff;transform:scaleX(0.9425)">4505, 4605, 4705, 4805</div>
<div class="t" style="left:545.05px;top:188.00px;font-size:6.3px;font-weight:bold;-webkit-text-stroke:0.15px #333;color:#333;transform:scaleX(0.9195)">Futtergröße</div>
<div class="t" style="left:553.92px;top:194.00px;font-size:6.3px;font-weight:bold;-webkit-text-stroke:0.15px #333;color:#333;transform:scaleX(0.9574)">[mm]</div>
<div class="t" style="left:547.67px;top:204.00px;font-size:6.3px;-webkit-text-stroke:0.1px #363636;color:#363636;transform:scaleX(0.8848)">Chuck size</div>
<div class="t" style="left:555.05px;top:211.00px;font-size:6.3px;-webkit-text-stroke:0.1px #363636;color:#363636;transform:scaleX(0.8929)">[mm]</div>
<div class="t" style="left:655.50px;top:187.00px;font-size:6.3px;font-weight:bold;-webkit-text-stroke:0.15px #333;color:#333;transform:scaleX(0.9624)">Max. U/min</div>
<div class="t" style="left:659.70px;top:194.00px;font-size:6.3px;-webkit-text-stroke:0.1px #363636;color:#363636;transform:scaleX(0.8990)">Max. rpm</div>
<div class="t" style="left:598.77px;top:208.00px;font-size:6.3px;font-weight:bold;-webkit-text-stroke:0.15px #333;color:#333;transform:scaleX(0.9275)">4505</div>
<div class="t" style="left:642.65px;top:208.00px;font-size:6.3px;font-weight:bold;-webkit-text-stroke:0.15px #333;color:#333;transform:scaleX(0.9275)">4605</div>
<div class="t" style="left:686.80px;top:208.00px;font-size:6.3px;font-weight:bold;-webkit-text-stroke:0.15px #333;color:#333;transform:scaleX(0.9275)">4705</div>
<div class="t" style="left:731.15px;top:208.00px;font-size:6.3px;font-weight:bold;-webkit-text-stroke:0.15px #333;color:#333;transform:scaleX(0.9275)">4805</div>
<div class="t" style="left:556.67px;top:220.00px;font-size:6.0px;-webkit-text-stroke:0.08px #333;color:#333;transform:scaleX(0.9200)">200</div>
<div class="t" style="left:598.37px;top:220.00px;font-size:6.0px;-webkit-text-stroke:0.08px #333;color:#333;transform:scaleX(0.9200)">2.500</div>
<div class="t" style="left:642.24px;top:220.00px;font-size:6.0px;-webkit-text-stroke:0.08px #333;color:#333;transform:scaleX(0.9200)">2.000</div>
<div class="t" style="left:686.39px;top:220.00px;font-size:6.0px;-webkit-text-stroke:0.08px #333;color:#333;transform:scaleX(0.9200)">3.000</div>
<div class="t" style="left:730.74px;top:220.00px;font-size:6.0px;-webkit-text-stroke:0.08px #333;color:#333;transform:scaleX(0.9200)">2.500</div>
<div class="t" style="left:556.67px;top:228.00px;font-size:6.0px;-webkit-text-stroke:0.08px #333;color:#333;transform:scaleX(0.9200)">250</div>
<div class="t" style="left:598.37px;top:228.00px;font-size:6.0px;-webkit-text-stroke:0.08px #333;color:#333;transform:scaleX(0.9200)">2.000</div>
<div class="t" style="left:642.24px;top:228.00px;font-size:6.0px;-webkit-text-stroke:0.08px #333;color:#333;transform:scaleX(0.9200)">1.800</div>
<div class="t" style="left:686.39px;top:228.00px;font-size:6.0px;-webkit-text-stroke:0.08px #333;color:#333;transform:scaleX(0.9200)">2.500</div>
<div class="t" style="left:730.74px;top:228.00px;font-size:6.0px;-webkit-text-stroke:0.08px #333;color:#333;transform:scaleX(0.9200)">2.000</div>
<div class="t" style="left:556.67px;top:236.00px;font-size:6.0px;-webkit-text-stroke:0.08px #333;color:#333;transform:scaleX(0.9200)">315</div>
<div class="t" style="left:598.37px;top:236.00px;font-size:6.0px;-webkit-text-stroke:0.08px #333;color:#333;transform:scaleX(0.9200)">1.500</div>
<div class="t" style="left:642.24px;top:236.00px;font-size:6.0px;-webkit-text-stroke:0.08px #333;color:#333;transform:scaleX(0.9200)">1.200</div>
<div class="t" style="left:686.39px;top:236.00px;font-size:6.0px;-webkit-text-stroke:0.08px #333;color:#333;transform:scaleX(0.9200)">2.000</div>
<div class="t" style="left:730.74px;top:236.00px;font-size:6.0px;-webkit-text-stroke:0.08px #333;color:#333;transform:scaleX(0.9200)">1.700</div>
<div class="t" style="left:556.67px;top:245.00px;font-size:6.0px;-webkit-text-stroke:0.08px #333;color:#333;transform:scaleX(0.9200)">400</div>
<div class="t" style="left:598.37px;top:245.00px;font-size:6.0px;-webkit-text-stroke:0.08px #333;color:#333;transform:scaleX(0.9200)">1.000</div>
<div class="t" style="left:644.54px;top:245.00px;font-size:6.0px;-webkit-text-stroke:0.08px #333;color:#333;transform:scaleX(0.9200)">800</div>
<div class="t" style="left:686.39px;top:245.00px;font-size:6.0px;-webkit-text-stroke:0.08px #333;color:#333;transform:scaleX(0.9200)">1.500</div>
<div class="t" style="left:730.74px;top:245.00px;font-size:6.0px;-webkit-text-stroke:0.08px #333;color:#333;transform:scaleX(0.9200)">1.300</div>
<div class="t" style="left:556.67px;top:253.00px;font-size:6.0px;-webkit-text-stroke:0.08px #333;color:#333;transform:scaleX(0.9200)">500</div>
<div class="t" style="left:600.67px;top:253.00px;font-size:6.0px;-webkit-text-stroke:0.08px #333;color:#333;transform:scaleX(0.9200)">700</div>
<div class="t" style="left:644.54px;top:253.00px;font-size:6.0px;-webkit-text-stroke:0.08px #333;color:#333;transform:scaleX(0.9200)">600</div>
<div class="t" style="left:686.39px;top:253.00px;font-size:6.0px;-webkit-text-stroke:0.08px #333;color:#333;transform:scaleX(0.9200)">1.000</div>
<div class="t" style="left:733.04px;top:253.00px;font-size:6.0px;-webkit-text-stroke:0.08px #333;color:#333;transform:scaleX(0.9200)">800</div>
<div class="t" style="left:556.67px;top:261.00px;font-size:6.0px;-webkit-text-stroke:0.08px #333;color:#333;transform:scaleX(0.9200)">630</div>
<div class="t" style="left:600.67px;top:261.00px;font-size:6.0px;-webkit-text-stroke:0.08px #333;color:#333;transform:scaleX(0.9200)">540</div>
<div class="t" style="left:644.54px;top:261.00px;font-size:6.0px;-webkit-text-stroke:0.08px #333;color:#333;transform:scaleX(0.9200)">480</div>
<div class="t" style="left:688.69px;top:261.00px;font-size:6.0px;-webkit-text-stroke:0.08px #333;color:#333;transform:scaleX(0.9200)">750</div>
<div class="t" style="left:733.04px;top:261.00px;font-size:6.0px;-webkit-text-stroke:0.08px #333;color:#333;transform:scaleX(0.9200)">660</div>
<div class="t" style="left:556.67px;top:270.00px;font-size:6.0px;-webkit-text-stroke:0.08px #333;color:#333;transform:scaleX(0.9200)">800</div>
<div class="t" style="left:600.67px;top:270.00px;font-size:6.0px;-webkit-text-stroke:0.08px #333;color:#333;transform:scaleX(0.9200)">420</div>
<div class="t" style="left:644.54px;top:270.00px;font-size:6.0px;-webkit-text-stroke:0.08px #333;color:#333;transform:scaleX(0.9200)">360</div>
<div class="t" style="left:688.69px;top:270.00px;font-size:6.0px;-webkit-text-stroke:0.08px #333;color:#333;transform:scaleX(0.9200)">600</div>
<div class="t" style="left:733.04px;top:270.00px;font-size:6.0px;-webkit-text-stroke:0.08px #333;color:#333;transform:scaleX(0.9200)">520</div>
<div class="t" style="left:555.13px;top:278.00px;font-size:6.0px;-webkit-text-stroke:0.08px #333;color:#333;transform:scaleX(0.9200)">1000</div>
<div class="t" style="left:600.67px;top:278.00px;font-size:6.0px;-webkit-text-stroke:0.08px #333;color:#333;transform:scaleX(0.9200)">280</div>
<div class="t" style="left:644.54px;top:278.00px;font-size:6.0px;-webkit-text-stroke:0.08px #333;color:#333;transform:scaleX(0.9200)">240</div>
<div class="t" style="left:688.69px;top:278.00px;font-size:6.0px;-webkit-text-stroke:0.08px #333;color:#333;transform:scaleX(0.9200)">380</div>
<div class="t" style="left:733.04px;top:278.00px;font-size:6.0px;-webkit-text-stroke:0.08px #333;color:#333;transform:scaleX(0.9200)">330</div>
<div class="t" style="left:555.13px;top:286.00px;font-size:6.0px;-webkit-text-stroke:0.08px #333;color:#333;transform:scaleX(0.9200)">1250</div>
<div class="t" style="left:600.67px;top:286.00px;font-size:6.0px;-webkit-text-stroke:0.08px #333;color:#333;transform:scaleX(0.9200)">210</div>
<div class="t" style="left:644.54px;top:286.00px;font-size:6.0px;-webkit-text-stroke:0.08px #333;color:#333;transform:scaleX(0.9200)">170</div>
<div class="t" style="left:692.38px;top:286.00px;font-size:6.0px;-webkit-text-stroke:0.08px #333;color:#333;transform:scaleX(0.9200)">-</div>
<div class="t" style="left:736.73px;top:286.00px;font-size:6.0px;-webkit-text-stroke:0.08px #333;color:#333;transform:scaleX(0.9200)">-</div>
<div class="t" style="left:642.55px;top:306.00px;font-size:7.4px;font-weight:bold;-webkit-text-stroke:0.45px #fff;color:#fff;transform:scaleX(0.9654)">34**</div>
<div class="t" style="left:569.80px;top:328.00px;font-size:6.3px;font-weight:bold;-webkit-text-stroke:0.15px #333;color:#333;transform:scaleX(0.9336)">Futtergröße [mm]</div>
<div class="t" style="left:573.25px;top:339.00px;font-size:6.3px;-webkit-text-stroke:0.1px #363636;color:#363636;transform:scaleX(0.8916)">Chuck size [mm]</div>
<div class="t" style="left:688.60px;top:328.00px;font-size:6.3px;font-weight:bold;-webkit-text-stroke:0.15px #333;color:#333;transform:scaleX(0.9624)">Max. U/min</div>
<div class="t" style="left:692.80px;top:339.00px;font-size:6.3px;-webkit-text-stroke:0.1px #363636;color:#363636;transform:scaleX(0.8990)">Max. rpm</div>
<div class="t" style="left:589.79px;top:349.00px;font-size:6.0px;-webkit-text-stroke:0.08px #333;color:#333;transform:scaleX(0.9200)">125</div>
<div class="t" style="left:697.69px;top:349.00px;font-size:6.0px;-webkit-text-stroke:0.08px #333;color:#333;transform:scaleX(0.9200)">6.000</div>
<div class="t" style="left:589.79px;top:357.00px;font-size:6.0px;-webkit-text-stroke:0.08px #333;color:#333;transform:scaleX(0.9200)">160</div>
<div class="t" style="left:697.69px;top:357.00px;font-size:6.0px;-webkit-text-stroke:0.08px #333;color:#333;transform:scaleX(0.9200)">5.400</div>
<div class="t" style="left:589.79px;top:365.00px;font-size:6.0px;-webkit-text-stroke:0.08px #333;color:#333;transform:scaleX(0.9200)">200</div>
<div class="t" style="left:697.69px;top:365.00px;font-size:6.0px;-webkit-text-stroke:0.08px #333;color:#333;transform:scaleX(0.9200)">4.600</div>
<div class="t" style="left:589.79px;top:373.00px;font-size:6.0px;-webkit-text-stroke:0.08px #333;color:#333;transform:scaleX(0.9200)">250</div>
<div class="t" style="left:697.69px;top:373.00px;font-size:6.0px;-webkit-text-stroke:0.08px #333;color:#333;transform:scaleX(0.9200)">4.200</div>
<div class="t" style="left:589.79px;top:382.00px;font-size:6.0px;-webkit-text-stroke:0.08px #333;color:#333;transform:scaleX(0.9200)">315</div>
<div class="t" style="left:697.69px;top:382.00px;font-size:6.0px;-webkit-text-stroke:0.08px #333;color:#333;transform:scaleX(0.9200)">3.300</div>
<div class="t" style="left:589.79px;top:390.00px;font-size:6.0px;-webkit-text-stroke:0.08px #333;color:#333;transform:scaleX(0.9200)">400</div>
<div class="t" style="left:697.69px;top:390.00px;font-size:6.0px;-webkit-text-stroke:0.08px #333;color:#333;transform:scaleX(0.9200)">2.400</div>
<div class="t" style="left:589.79px;top:398.00px;font-size:6.0px;-webkit-text-stroke:0.08px #333;color:#333;transform:scaleX(0.9200)">500</div>
<div class="t" style="left:697.69px;top:398.00px;font-size:6.0px;-webkit-text-stroke:0.08px #333;color:#333;transform:scaleX(0.9200)">1.500</div>
<div class="t" style="left:589.79px;top:406.00px;font-size:6.0px;-webkit-text-stroke:0.08px #333;color:#333;transform:scaleX(0.9200)">630</div>
<div class="t" style="left:697.69px;top:406.00px;font-size:6.0px;-webkit-text-stroke:0.08px #333;color:#333;transform:scaleX(0.9200)">1.200</div>
<div class="t" style="left:589.79px;top:415.00px;font-size:6.0px;-webkit-text-stroke:0.08px #333;color:#333;transform:scaleX(0.9200)">800</div>
<div class="t" style="left:699.99px;top:415.00px;font-size:6.0px;-webkit-text-stroke:0.08px #333;color:#333;transform:scaleX(0.9200)">960</div>
<div class="t" style="left:589.79px;top:423.00px;font-size:6.0px;-webkit-text-stroke:0.08px #333;color:#333;transform:scaleX(0.9200)">915</div>
<div class="t" style="left:699.99px;top:423.00px;font-size:6.0px;-webkit-text-stroke:0.08px #333;color:#333;transform:scaleX(0.9200)">840</div>
<div class="t" style="left:588.25px;top:431.00px;font-size:6.0px;-webkit-text-stroke:0.08px #333;color:#333;transform:scaleX(0.9200)">1000</div>
<div class="t" style="left:699.99px;top:431.00px;font-size:6.0px;-webkit-text-stroke:0.08px #333;color:#333;transform:scaleX(0.9200)">720</div>
<div class="t" style="left:588.25px;top:440.00px;font-size:6.0px;-webkit-text-stroke:0.08px #333;color:#333;transform:scaleX(0.9200)">1250</div>
<div class="t" style="left:699.99px;top:440.00px;font-size:6.0px;-webkit-text-stroke:0.08px #333;color:#333;transform:scaleX(0.9200)">600</div>
<div class="t" style="left:8.78px;top:562.00px;font-size:8.7px;font-weight:bold;-webkit-text-stroke:0.15px #008ac5;color:#008ac5;transform:scaleX(0.9828)">134</div>
<div class="t" style="left:471.00px;top:563.00px;font-size:7px;font-weight:bold;-webkit-text-stroke:0.15px #1780bd;color:#1780bd;transform:scaleX(0.8660)">www.bison-bial.de</div>
<div class="t" style="left:528.45px;top:564.00px;font-size:6px;font-weight:bold;-webkit-text-stroke:0.15px #1780bd;color:#1780bd;transform:scaleX(1.0000)">•</div>
<div class="t" style="left:534.50px;top:563.00px;font-size:7px;font-weight:bold;-webkit-text-stroke:0.15px #1780bd;color:#1780bd;transform:scaleX(0.8701)">e-mail: info@bison-bial.de</div>
<div class="t" style="left:615.15px;top:564.00px;font-size:6px;-webkit-text-stroke:0.08px #4aa0cf;color:#4aa0cf;transform:scaleX(1.0000)">•</div>
<div class="t" style="left:621.20px;top:563.00px;font-size:7px;-webkit-text-stroke:0.08px #4aa0cf;color:#4aa0cf;transform:scaleX(0.8616)">www.bison-bial.com</div>
<div class="t" style="left:678.15px;top:564.00px;font-size:6px;-webkit-text-stroke:0.08px #4aa0cf;color:#4aa0cf;transform:scaleX(1.0000)">•</div>
<div class="t" style="left:684.00px;top:563.00px;font-size:7px;-webkit-text-stroke:0.08px #4aa0cf;color:#4aa0cf;transform:scaleX(0.8788)">e-mail: info@bison-bial.com</div>
</body></html>
